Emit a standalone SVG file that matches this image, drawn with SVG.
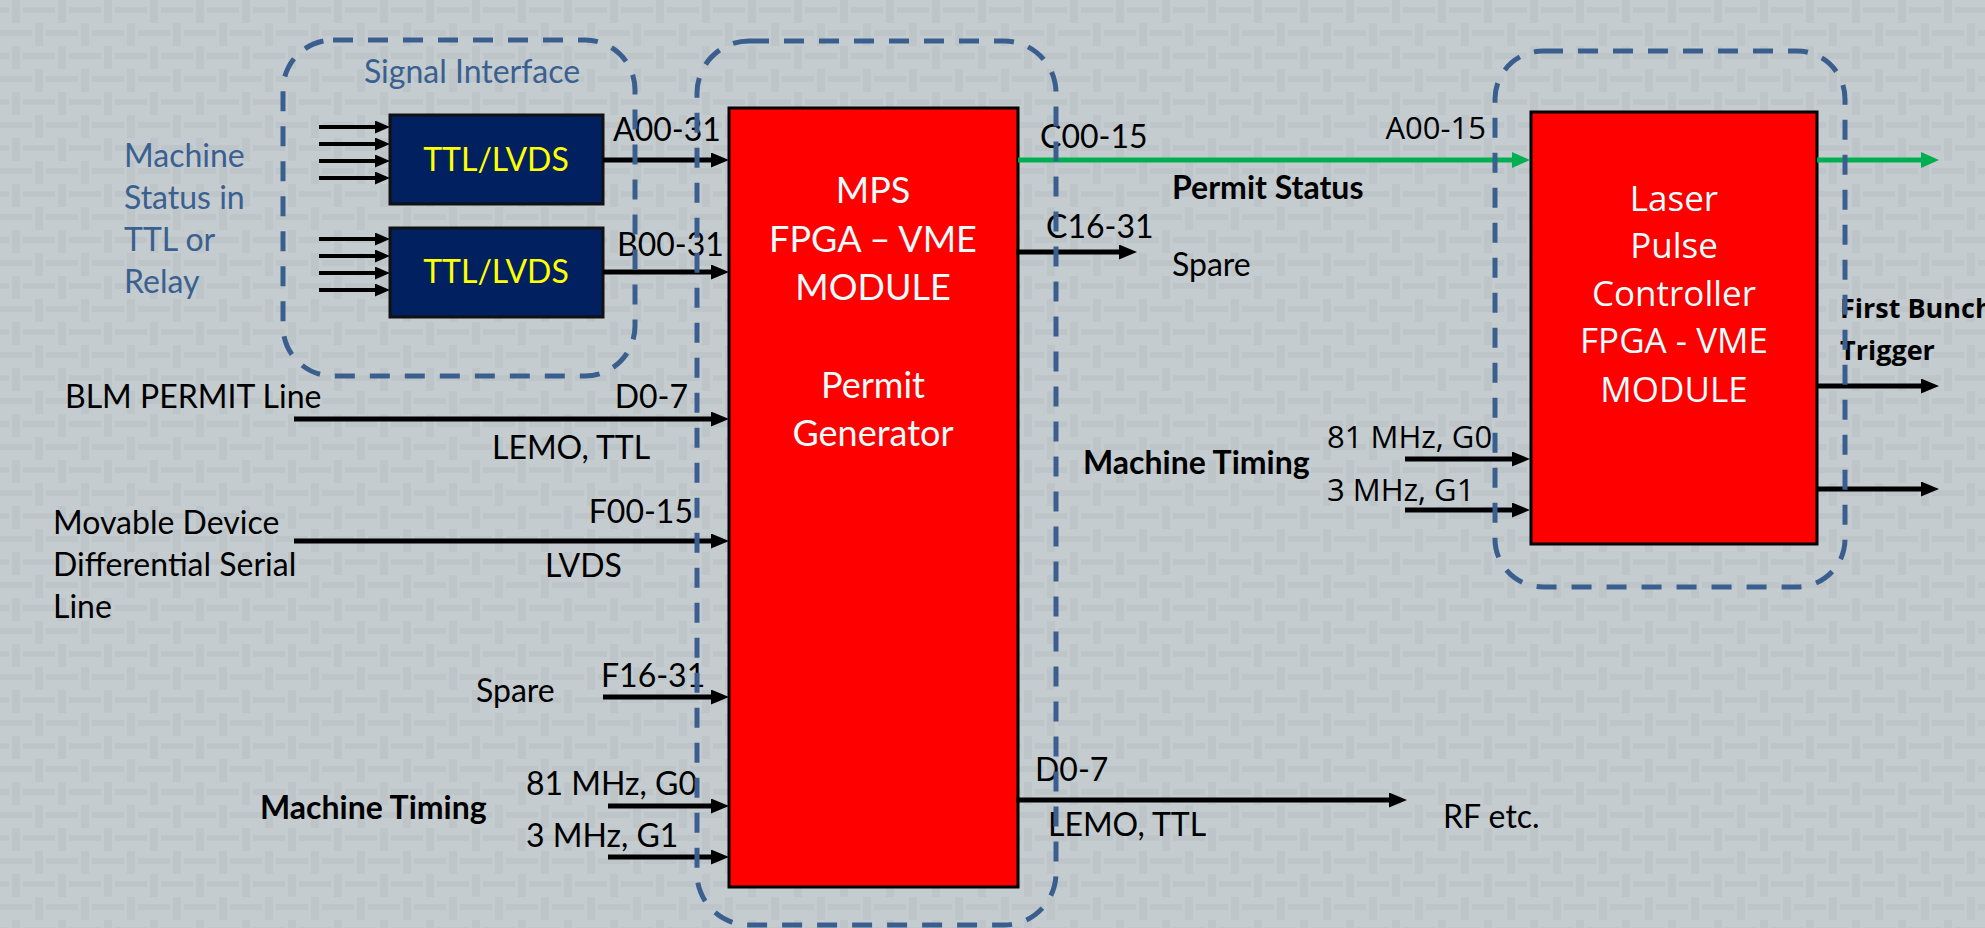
<svg xmlns="http://www.w3.org/2000/svg" width="1985" height="928" viewBox="0 0 1985 928">
<style>
.c{font-family:Lato,"Liberation Sans",sans-serif;font-size:32px;fill:#000}
.cb{font-family:Lato,"Liberation Sans",sans-serif;font-size:32px;font-weight:bold;fill:#000}
.s{font-family:"Open Sans","Liberation Sans",sans-serif;font-size:31px;fill:#000}
.sb{font-family:"Open Sans","Liberation Sans",sans-serif;font-size:27px;font-weight:bold;fill:#000}
.blue{fill:#3a6090}
.mod{font-family:Lato,"Liberation Sans",sans-serif;font-size:36px;fill:#e9fbfb;text-anchor:middle}
.las{font-family:"Open Sans","Liberation Sans",sans-serif;font-size:35px;fill:#e4ffff;text-anchor:middle}
.ttl{font-family:Lato,"Liberation Sans",sans-serif;font-size:32px;fill:#ffff00;text-anchor:middle}
.red{fill:#ff0000;stroke:#000;stroke-width:3}
.navy{fill:#002060;stroke:#111;stroke-width:3}
.dash{fill:none;stroke:#3a5f8f;stroke-width:5;stroke-dasharray:20 15}
.ar{stroke:#000;stroke-width:5;fill:none;marker-end:url(#ah)}
.ars{stroke:#000;stroke-width:4;fill:none;marker-end:url(#ahs)}
.arg{stroke:#00b050;stroke-width:5;fill:none;marker-end:url(#ahg)}
</style>
<defs>
<pattern id="bg" width="46" height="46" patternUnits="userSpaceOnUse">
<rect width="46" height="46" fill="#c5ccd0"/>
<g fill="#bdc5c9">
<rect x="12" y="0" width="8" height="23"/>
<rect x="23" y="7" width="23" height="6"/>
<rect x="0" y="7" width="9" height="6"/>
<rect x="35" y="23" width="8" height="23"/>
<rect x="0" y="30" width="32" height="6"/>
</g>
</pattern>
<marker id="ah" markerUnits="userSpaceOnUse" markerWidth="20" markerHeight="16" refX="8" refY="7.5" orient="auto"><path d="M0,0 L18,7.5 L0,15 z" fill="#000"/></marker>
<marker id="ahs" markerUnits="userSpaceOnUse" markerWidth="16" markerHeight="14" refX="6" refY="6.5" orient="auto"><path d="M0,0 L15,6.5 L0,13 z" fill="#000"/></marker>
<marker id="ahg" markerUnits="userSpaceOnUse" markerWidth="20" markerHeight="17" refX="8" refY="8" orient="auto"><path d="M0,0 L18,8 L0,16 z" fill="#00b050"/></marker>
</defs>
<rect width="1985" height="928" fill="url(#bg)"/>

<g id="ttl1"><rect class="navy" x="390" y="115" width="213" height="89"/><text class="ttl" x="496" y="171">TTL/LVDS</text></g>
<g id="ttl2"><rect class="navy" x="390" y="228" width="213" height="89"/><text class="ttl" x="496" y="283">TTL/LVDS</text></g>
<g id="mps">
<rect class="red" x="729" y="108" width="289" height="779"/>
<text class="mod" x="873" y="203">MPS</text>
<text class="mod" x="873" y="252">FPGA – VME</text>
<text class="mod" x="873" y="300">MODULE</text>
<text class="mod" x="873" y="398">Permit</text>
<text class="mod" x="873" y="446">Generator</text>
</g>
<g id="laser">
<rect class="red" x="1531" y="112" width="286" height="432"/>
<text class="las" x="1674" y="211">Laser</text>
<text class="las" x="1674" y="258">Pulse</text>
<text class="las" x="1674" y="306">Controller</text>
<text class="las" x="1674" y="353">FPGA - VME</text>
<text class="las" x="1674" y="402">MODULE</text>
</g>

<g id="connectors">
<line class="ars" x1="319" y1="127" x2="381" y2="127"/>
<line class="ars" x1="319" y1="144" x2="381" y2="144"/>
<line class="ars" x1="319" y1="161" x2="381" y2="161"/>
<line class="ars" x1="319" y1="178" x2="381" y2="178"/>
<line class="ars" x1="319" y1="239" x2="381" y2="239"/>
<line class="ars" x1="319" y1="256" x2="381" y2="256"/>
<line class="ars" x1="319" y1="273" x2="381" y2="273"/>
<line class="ars" x1="319" y1="290" x2="381" y2="290"/>
<line class="ar" x1="603" y1="160" x2="719" y2="160"/>
<line class="ar" x1="603" y1="272" x2="719" y2="272"/>
<line class="ar" x1="294" y1="419" x2="719" y2="419"/>
<line class="ar" x1="294" y1="541" x2="719" y2="541"/>
<line class="ar" x1="603" y1="697" x2="719" y2="697"/>
<line class="ar" x1="608" y1="806" x2="719" y2="806"/>
<line class="ar" x1="608" y1="857" x2="719" y2="857"/>
<line class="arg" x1="1018" y1="160" x2="1520" y2="160"/>
<line class="arg" x1="1817" y1="160" x2="1929" y2="160"/>
<line class="ar" x1="1016" y1="252" x2="1127" y2="252"/>
<line class="ar" x1="1405" y1="459" x2="1520" y2="459"/>
<line class="ar" x1="1405" y1="510" x2="1520" y2="510"/>
<line class="ar" x1="1817" y1="386" x2="1929" y2="386"/>
<line class="ar" x1="1817" y1="489" x2="1929" y2="489"/>
<line class="ar" x1="1016" y1="800" x2="1397" y2="800"/>
</g>

<g id="labels">
<text class="c blue" x="472" y="83" text-anchor="middle">Signal Interface</text>
<text class="c blue" x="124" y="167">Machine</text>
<text class="c blue" x="124" y="209">Status in</text>
<text class="c blue" x="124" y="251">TTL or</text>
<text class="c blue" x="124" y="293">Relay</text>
<text class="c" x="613" y="141">A00-31</text>
<text class="c" x="617" y="256">B00-31</text>
<text class="c" x="65" y="408" font-size="31">BLM PERMIT Line</text>
<text class="c" x="688" y="408" text-anchor="end">D0-7</text>
<text class="c" x="492" y="459">LEMO, TTL</text>
<text class="c" x="53" y="534">Movable Device</text>
<text class="c" x="53" y="576">Differential Serial</text>
<text class="c" x="53" y="618">Line</text>
<text class="c" x="693" y="523" text-anchor="end">F00-15</text>
<text class="c" x="545" y="577">LVDS</text>
<text class="c" x="476" y="702">Spare</text>
<text class="c" x="601" y="687">F16-31</text>
<text class="cb" x="260" y="819">Machine Timing</text>
<text class="c" x="526" y="795">81 MHz, G0</text>
<text class="c" x="526" y="847">3 MHz, G1</text>
<text class="c" x="1040" y="148">C00-15</text>
<text class="cb" x="1172" y="199">Permit Status</text>
<text class="c" x="1046" y="238">C16-31</text>
<text class="c" x="1172" y="276">Spare</text>
<text class="s" x="1486" y="139" text-anchor="end">A00-15</text>
<text class="cb" x="1083" y="474">Machine Timing</text>
<text class="s" x="1327" y="448">81 MHz, G0</text>
<text class="s" x="1327" y="501">3 MHz, G1</text>
<text class="sb" x="1840" y="318">First Bunch</text>
<text class="sb" x="1840" y="360">Trigger</text>
<text class="c" x="1035" y="781">D0-7</text>
<text class="c" x="1048" y="836">LEMO, TTL</text>
<text class="c" x="1443" y="828">RF etc.</text>
</g>

<g id="signal-interface"><rect class="dash" x="283" y="40" width="352" height="336" rx="50"/></g>
<g id="mps-container"><rect class="dash" x="697" y="41" width="359" height="884" rx="52"/></g>
<g id="laser-container"><rect class="dash" x="1495" y="51" width="350" height="536" rx="48"/></g>
</svg>
